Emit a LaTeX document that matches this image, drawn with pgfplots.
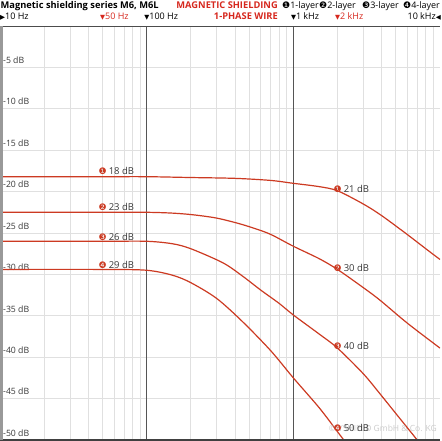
\documentclass[border=0pt]{standalone}
\usepackage{fontspec}
\setmainfont{Open Sans}
\newfontfamily\sym{DejaVu Sans}
\usepackage{pgfplots}
\pgfplotsset{compat=1.18}
\definecolor{cred}{RGB}{204,58,34}
\definecolor{hred}{RGB}{214,40,30}
\definecolor{gridl}{RGB}{224,224,224}
\definecolor{gridd}{RGB}{85,85,85}
\definecolor{lbl}{RGB}{55,55,55}
\newcommand{\rc}[1]{{\sym\fontsize{9}{9}\selectfont\textcolor{cred}{#1}}}
\newcommand{\bc}[1]{{\sym\fontsize{9}{9}\selectfont #1}}
\newcommand{\tri}[1]{{\sym\fontsize{6.5}{6.5}\selectfont #1}}
\begin{document}
\begin{tikzpicture}
\path[use as bounding box] (0,0) rectangle (441pt,441pt);
\begin{axis}[at={(0pt,1pt)}, anchor=south west, scale only axis,
  width=440pt, height=414pt,
  xmode=log, xmin=10, xmax=10000, ymin=-50, ymax=0,
  axis line style={draw=none},
  xtick={20,30,40,50,60,70,80,90,200,300,400,500,600,700,800,900,2000,3000,4000,5000,6000,7000,8000,9000},
  xticklabels={},
  ytick={-50,-45,-40,-35,-30,-25,-20,-15,-10,-5},
  yticklabels={-50 dB,-45 dB,-40 dB,-35 dB,-30 dB,-25 dB,-20 dB,-15 dB,-10 dB,-5 dB},
  yticklabel style={anchor=base west, inner sep=0pt, xshift=3pt, yshift=3.8pt,
    font=\fontsize{8.7}{10}\selectfont, text=lbl},
  grid=major, major grid style={gridl, line width=0.8pt},
  major tick length=0pt, minor tick length=0pt,
  extra x ticks={100,1000}, extra x tick labels={},
  extra x tick style={major grid style={gridd, line width=1pt}},
]
\addplot[cred, line width=1.2pt, smooth, tension=0.5] coordinates {
(10,-18.2) (50,-18.2) (100,-18.2) (200,-18.3) (400,-18.4) (700,-18.65) (1000,-19.0)
(1500,-19.4) (2000,-19.9) (3000,-21.5) (4000,-22.9) (6000,-25.2) (8000,-26.9) (10000,-28.2)};
\addplot[cred, line width=1.2pt, smooth, tension=0.5] coordinates {
(10,-22.5) (50,-22.5) (100,-22.5) (150,-22.6) (207,-22.8) (300,-23.2) (433,-23.9) (600,-24.7)
(726,-25.3) (1000,-26.6) (1500,-28.1) (2000,-29.4) (3000,-31.6) (3890,-33.1) (6000,-35.9) (10000,-38.9)};
\addplot[cred, line width=1.2pt, smooth, tension=0.5] coordinates {
(10,-26.0) (50,-26.0) (100,-26.0) (150,-26.3) (200,-26.9) (331,-28.6) (450,-30.2) (600,-31.9)
(800,-33.5) (1000,-34.9) (1500,-37.2) (2000,-38.9) (3000,-42.0) (3890,-44.4) (5000,-46.8) (6920,-49.9) (8000,-51.3)};
\addplot[cred, line width=1.2pt, smooth, tension=0.5] coordinates {
(10,-29.4) (50,-29.4) (100,-29.5) (150,-30.1) (200,-31.0) (300,-32.9) (450,-35.7) (700,-39.2)
(1000,-42.5) (1500,-46.1) (2000,-49.0) (2300,-50.4) (2500,-51.2)};
% borders
\draw[color=gridd!90!black, line width=0.9pt] (rel axis cs:0,1) -- (rel axis cs:1,1);
\draw[color=black!75, line width=1.3pt] (rel axis cs:0,0) -- (rel axis cs:1,0);
\draw[color=black!40, line width=2.5pt] ([xshift=1.25pt]rel axis cs:0,0) -- ([xshift=1.25pt]rel axis cs:0,1);
% watermark
\node[anchor=base east, inner sep=0pt, xshift=-3pt, text=black!20, font=\fontsize{8.5}{10}\selectfont] at (axis cs:10000,-49.0) {© YSHIELD GmbH \& Co. KG};
% curve labels
\begin{scope}[every node/.style={anchor=west, inner sep=0pt, xshift=-4pt, font=\fontsize{9.5}{10}\selectfont, text=lbl}]
\node at (axis cs:50,-17.5) {\rc{❶}\hspace{2pt}18 dB};
\node at (axis cs:50,-21.9) {\rc{❷}\hspace{2pt}23 dB};
\node at (axis cs:50,-25.45) {\rc{❸}\hspace{2pt}26 dB};
\node at (axis cs:50,-28.9) {\rc{❹}\hspace{2pt}29 dB};
\node at (axis cs:2000,-19.7) {\rc{❶}\hspace{2pt}21 dB};
\node at (axis cs:2000,-29.2) {\rc{❷}\hspace{2pt}30 dB};
\node at (axis cs:2000,-38.7) {\rc{❸}\hspace{2pt}40 dB};
\node at (axis cs:2000,-48.6) {\rc{❹}\hspace{2pt}50 dB};
\end{scope}
\end{axis}
% header
\begin{scope}[every node/.style={inner sep=0pt, font=\fontsize{9}{10}\selectfont}]
\node[anchor=base west, font=\bfseries\fontsize{9.3}{10}\selectfont] at (0.5pt,432.3pt) {Magnetic shielding series M6, M6L};
\node[anchor=base east, font=\bfseries\fontsize{9.3}{10}\selectfont, text=hred] at (278pt,432.3pt) {MAGNETIC SHIELDING};
\node[anchor=base east, font=\bfseries\fontsize{9.3}{10}\selectfont, text=hred] at (278pt,421.7pt) {1-PHASE WIRE};
\node[anchor=base west] at (282pt,432.3pt) {\bc{❶}1-layer};
\node[anchor=base west] at (319pt,432.3pt) {\bc{❷}2-layer};
\node[anchor=base west] at (362pt,432.3pt) {\bc{❸}3-layer};
\node[anchor=base west] at (403pt,432.3pt) {\bc{❹}4-layer};
\node[anchor=base west] at (0pt,421.7pt) {\tri{▶}10 Hz};
\node[anchor=base west, text=hred] at (100pt,421.7pt) {\tri{▼}50 Hz};
\node[anchor=base west] at (144.2pt,421.7pt) {\tri{▼}100 Hz};
\node[anchor=base west] at (290.8pt,421.7pt) {\tri{▼}1 kHz};
\node[anchor=base west, text=hred] at (335pt,421.7pt) {\tri{▼}2 kHz};
\node[anchor=base east] at (441pt,421.7pt) {10 kHz\tri{◀}};
\end{scope}
\end{tikzpicture}
\end{document}
